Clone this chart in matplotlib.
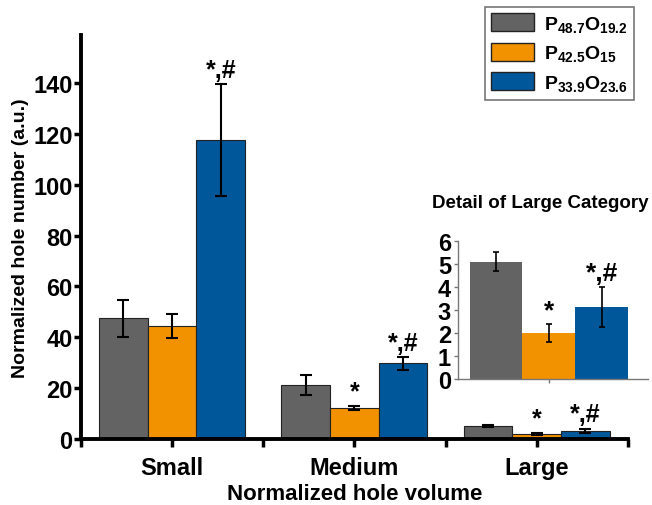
import numpy as np
import matplotlib.pyplot as plt
from matplotlib.patches import Patch

plt.rcParams['font.family'] = ['Liberation Sans', 'DejaVu Sans']
plt.rcParams['font.weight'] = 'bold'
plt.rcParams['mathtext.fontset'] = 'custom'
plt.rcParams['mathtext.rm'] = 'Liberation Sans:bold'
plt.rcParams['mathtext.bf'] = 'Liberation Sans:bold'
plt.rcParams['mathtext.it'] = 'Liberation Sans:bold'

categories = ['Small', 'Medium', 'Large']
series = [r'$\mathrm{P_{48.7}O_{19.2}}$', r'$\mathrm{P_{42.5}O_{15}}$', r'$\mathrm{P_{33.9}O_{23.6}}$']
colors = ['#636363', '#F39200', '#00579A']
means = [[47.5, 21.2, 5.1],
         [44.5, 12.2, 2.0],
         [117.5, 29.7, 3.15]]
errs = [[7.3, 3.8, 0.42],
        [4.8, 0.9, 0.4],
        [22.0, 2.4, 0.87]]
marks = [['', '', ''],
         ['', '*', '*'],
         ['*,#', '*,#', '*,#']]

fig = plt.figure(figsize=(6.52, 5.06), dpi=100)
ax = fig.add_axes([0.124, 0.1304, 0.839, 0.798])

x = np.arange(len(categories)) + 0.5
w = 0.267
for i in range(3):
    xi = x + (i - 1) * w
    ax.bar(xi, means[i], w, color=colors[i], edgecolor='#222222', linewidth=0.8)
    ax.errorbar(xi, means[i], yerr=errs[i], fmt='none', ecolor='black',
                elinewidth=1.5, capsize=4, capthick=1.5)
    for j in range(3):
        if marks[i][j]:
            ax.text(xi[j], means[i][j] + errs[i][j] + 1.0, marks[i][j],
                    ha='center', va='bottom', fontsize=18, fontweight='bold')

ax.set_xlim(0, 3)
ax.set_ylim(0, 158.8)
ax.set_xticks(x)
ax.set_xticklabels(categories, fontsize=17, fontweight='bold')
ax.set_xticks([0, 1, 2, 3], minor=True)
ax.set_yticks(np.arange(0, 141, 20))
ax.tick_params(axis='y', labelsize=17, width=2.5, length=5, pad=1)
ax.tick_params(axis='x', which='both', width=2.5, length=6, pad=6)
for lbl in ax.get_yticklabels():
    lbl.set_fontweight('bold')
for s in ['top', 'right']:
    ax.spines[s].set_visible(False)
for s in ['left', 'bottom']:
    ax.spines[s].set_linewidth(2.8)
ax.set_ylabel('Normalized hole number (a.u.)', fontsize=14, fontweight='bold', labelpad=3)
ax.set_xlabel('Normalized hole volume', fontsize=16, fontweight='bold', labelpad=3)

handles = [Patch(facecolor=c, edgecolor='#222222', linewidth=1) for c in colors]
leg = fig.legend(handles, series, loc='upper right', bbox_to_anchor=(0.973, 0.985),
                 fontsize=14, frameon=True, fancybox=False, edgecolor='#555555',
                 handlelength=2.2, handleheight=1.05, labelspacing=0.45,
                 borderpad=0.35, handletextpad=0.5, borderaxespad=0)
leg.get_frame().set_linewidth(1.2)

# inset
ins = fig.add_axes([0.7025, 0.249, 0.291, 0.2727])
ins.patch.set_alpha(0)
xl = np.array([0.479])
wi = 0.279
for i in range(3):
    xi = xl + (i - 1) * wi
    ins.bar(xi, [means[i][2]], wi, color=colors[i], edgecolor='none')
    ins.errorbar(xi, [means[i][2]], yerr=[errs[i][2]], fmt='none', ecolor='black',
                 elinewidth=1.2, capsize=2.5, capthick=1.2)
    if marks[i][2]:
        ins.text(xi[0], means[i][2] + errs[i][2] + 0.05, marks[i][2],
                 ha='center', va='bottom', fontsize=19, fontweight='bold')
ins.set_xlim(0, 1.0)
ins.set_ylim(0, 6)
ins.set_yticks(range(0, 7))
ins.set_xticks([0.479])
ins.set_xticklabels([])
ins.tick_params(axis='y', labelsize=17, length=3, width=1, pad=2, color='#777777')
ins.tick_params(axis='x', length=3, width=1, color='#777777')
for lbl in ins.get_yticklabels():
    lbl.set_fontweight('bold')
for s in ['top', 'right']:
    ins.spines[s].set_visible(False)
for s in ['left', 'bottom']:
    ins.spines[s].set_color('#777777')
    ins.spines[s].set_linewidth(1)
fig.text(0.828, 0.598, 'Detail of Large Category', ha='center', va='center',
         fontsize=13.5, fontweight='bold')

fig.savefig('out.png', dpi=100)
